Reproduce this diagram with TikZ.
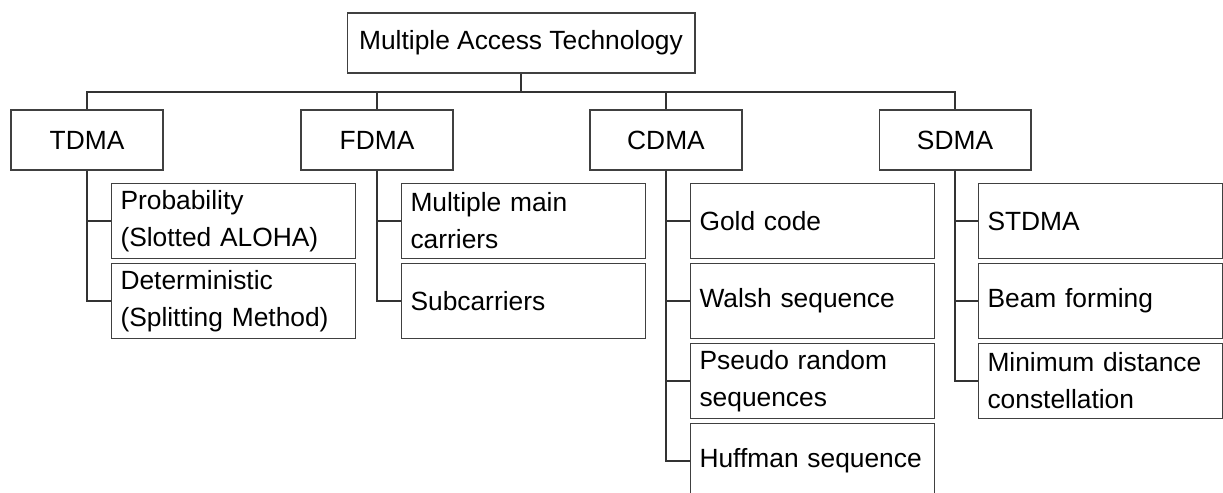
\documentclass[tikz,border=0pt]{standalone}
\usepackage{fontspec}
\setmainfont{Liberation Sans}
\begin{document}
\begin{tikzpicture}[x=0.02cm, y=-0.02cm, font=\fontsize{15}{21}\selectfont,
	box/.style={draw=black!75, line width=0.6pt, rectangle, minimum height=1.2cm, minimum width=3.04cm, inner sep=0pt},
	subbox/.style={draw=black!75, line width=0.6pt, rectangle, anchor=north west, minimum height=1.5cm, text width=4.52cm, inner xsep=0.18cm, inner ysep=0pt, align=left},
	link/.style={draw=black!80, line width=0.6pt}]
	\useasboundingbox (0,0) rectangle (1223,493);
	\node [box, minimum width=6.96cm] (mat) at (521,43) {Multiple Access Technology};
	\coordinate (bus) at (521,92);
	\node [box] (tdma) at (87,140) {TDMA};
	\node [box] (fdma) at (377,140) {FDMA};
	\node [box] (cdma) at (666,140) {CDMA};
	\node [box] (sdma) at (955,140) {SDMA};
	\node [subbox] (tdma1) at (111,183) {Probability\\(Slotted ALOHA)};
	\node [subbox] (tdma2) at (111,263) {Deterministic\\(Splitting Method)};
	\node [subbox] (fdma1) at (401,183) {Multiple main\\carriers};
	\node [subbox] (fdma2) at (401,263) {Subcarriers};
	\node [subbox] (cdma1) at (690,183) {Gold code};
	\node [subbox] (cdma2) at (690,263) {Walsh sequence};
	\node [subbox] (cdma3) at (690,343) {Pseudo random\\sequences};
	\node [subbox] (cdma4) at (690,423) {Huffman sequence};
	\node [subbox] (sdma1) at (978,183) {STDMA};
	\node [subbox] (sdma2) at (978,263) {Beam forming};
	\node [subbox] (sdma3) at (978,343) {Minimum distance\\constellation};
	\draw [link] (mat) -- (bus);
	\draw [link] (bus) -| (tdma.north);
	\draw [link] (bus) -| (fdma.north);
	\draw [link] (bus) -| (cdma.north);
	\draw [link] (bus) -| (sdma.north);
	\draw [link] (tdma.south) |- (tdma1.west);
	\draw [link] (tdma.south) |- (tdma2.west);
	\draw [link] (fdma.south) |- (fdma1.west);
	\draw [link] (fdma.south) |- (fdma2.west);
	\draw [link] (cdma.south) |- (cdma1.west);
	\draw [link] (cdma.south) |- (cdma2.west);
	\draw [link] (cdma.south) |- (cdma3.west);
	\draw [link] (cdma.south) |- (cdma4.west);
	\draw [link] (sdma.south) |- (sdma1.west);
	\draw [link] (sdma.south) |- (sdma2.west);
	\draw [link] (sdma.south) |- (sdma3.west);
\end{tikzpicture}
\end{document}
